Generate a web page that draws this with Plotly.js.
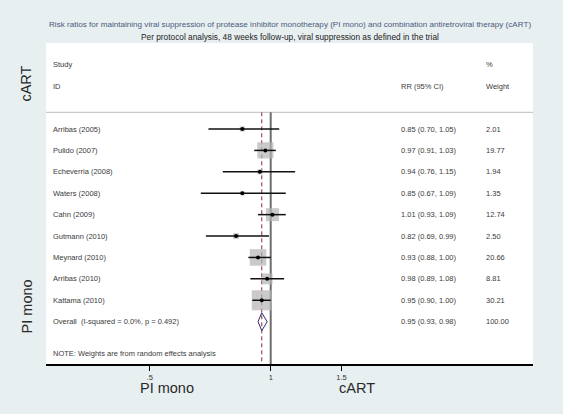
<!DOCTYPE html>
<html>
<head>
<meta charset="utf-8">
<script src="https://cdn.plot.ly/plotly-3.0.1.min.js"></script>
<style>html,body{margin:0;padding:0;background:#e8eff1;}#chart{width:563px;height:414px;}</style>
</head>
<body>
<div id="chart"></div>
<script>
const studies = ['Arribas (2005)', 'Pulido (2007)', 'Echeverria (2008)', 'Waters (2008)', 'Cahn (2009)', 'Gutmann (2010)', 'Meynard (2010)', 'Arribas (2010)', 'Kattama (2010)'];
const rr = [0.85, 0.97, 0.94, 0.85, 1.01, 0.82, 0.93, 0.98, 0.95];
const lo = [0.70, 0.91, 0.76, 0.67, 0.93, 0.69, 0.88, 0.89, 0.90];
const hi = [1.05, 1.03, 1.15, 1.09, 1.09, 0.99, 1.00, 1.08, 1.00];
const weight = [2.01, 19.77, 1.94, 1.35, 12.74, 2.50, 20.66, 8.81, 30.21];
const overallLabel = 'Overall  (I-squared = 0.0%, p = 0.492)';
const overallRR = 0.95, overallLo = 0.93, overallHi = 0.98, overallWeight = 100.00;
const tickVals = [0.5, 1, 1.5];
const tickText = ['.5', '1', '1.5'];
const titleLine1 = 'Risk ratios for maintaining viral suppression of protease inhibitor monotherapy (PI mono) and combination antiretroviral therapy (cART)';
const titleLine2 = 'Per protocol analysis, 48 weeks follow-up, viral suppression as defined in the trial';
const noteText = 'NOTE: Weights are from random effects analysis';

const FONT = '"Liberation Sans", Arial, sans-serif';
const rows = studies.map((s, i) => i + 1);
const overallRow = studies.length + 1;
const fmt = v => v.toFixed(2);

const ciX = [], ciY = [];
rows.forEach((r, i) => { ciX.push(lo[i], hi[i], null); ciY.push(r, r, null); });

const dh = 0.42;
const traces = [
  {x: [1, 1], y: [0.22, 13], mode: 'lines', line: {color: '#6e6e6e', width: 2}, hoverinfo: 'skip'},
  {x: [overallRR, overallRR], y: [0.22, 13], mode: 'lines', line: {color: '#8b2c2c', width: 1, dash: '4px,3px'}, hoverinfo: 'skip'},
  {x: rr, y: rows, mode: 'markers', marker: {symbol: 'square', color: '#b4b4b4', size: weight.map(w => 3.64 * Math.sqrt(w)), line: {width: 0}}},
  {x: ciX, y: ciY, mode: 'lines', line: {color: '#111', width: 1.5}, connectgaps: false},
  {x: rr, y: rows, mode: 'markers', marker: {symbol: 'circle', color: '#000', size: 4}},
  {x: [overallLo, overallRR, overallHi, overallRR, overallLo], y: [overallRow, overallRow - dh, overallRow, overallRow + dh, overallRow], mode: 'lines', line: {color: '#2b2b7a', width: 1}}
];

const xl = 0.011, xrr = 0.724, xw = 0.899;
const txt = (x, y, t, extra) => Object.assign({xref: 'paper', yref: 'y', x: x, y: y, text: t, showarrow: false, xanchor: 'left', yanchor: 'middle', font: {family: FONT, size: 7.5, color: '#3a3a3a'}}, extra || {});
const ann = [];
ann.push(txt(xl, -2, 'Study'), txt(xl, -1, 'ID'), txt(xrr, -1, 'RR (95% CI)'), txt(xw, -2, '%'), txt(xw, -1, 'Weight'));
rows.forEach((r, i) => {
  ann.push(txt(xl, r, studies[i]));
  ann.push(txt(xrr, r, fmt(rr[i]) + ' (' + fmt(lo[i]) + ', ' + fmt(hi[i]) + ')'));
  ann.push(txt(xw, r, fmt(weight[i])));
});
ann.push(txt(xl, overallRow, overallLabel));
ann.push(txt(xrr, overallRow, fmt(overallRR) + ' (' + fmt(overallLo) + ', ' + fmt(overallHi) + ')'));
ann.push(txt(xw, overallRow, overallWeight.toFixed(2)));
ann.push(txt(xl, 11.5, noteText));

const big = {family: FONT, size: 14.5, color: '#2a2a2a'};
ann.push({xref: 'paper', yref: 'paper', x: 0.248, y: -0.075, text: 'PI mono', showarrow: false, xanchor: 'center', yanchor: 'middle', font: big});
ann.push({xref: 'paper', yref: 'paper', x: 0.639, y: -0.075, text: 'cART', showarrow: false, xanchor: 'center', yanchor: 'middle', font: big});
ann.push({xref: 'paper', yref: 'paper', x: -0.04, y: 0.872, text: 'cART', textangle: -90, showarrow: false, xanchor: 'center', yanchor: 'middle', font: big});
ann.push({xref: 'paper', yref: 'paper', x: -0.04, y: 0.178, text: 'PI mono', textangle: -90, showarrow: false, xanchor: 'center', yanchor: 'middle', font: big});
ann.push({xref: 'paper', yref: 'paper', x: 0.5, y: 1.059, text: titleLine1, showarrow: false, xanchor: 'center', yanchor: 'middle', font: {family: FONT, size: 8.1, color: '#4a5a7c'}});
ann.push({xref: 'paper', yref: 'paper', x: 0.5, y: 1.0196, text: titleLine2, showarrow: false, xanchor: 'center', yanchor: 'middle', font: {family: FONT, size: 8.3, color: '#222'}});

const layout = {
  width: 563, height: 414,
  margin: {l: 46, r: 30, t: 43, b: 50, pad: 0},
  paper_bgcolor: '#e8eff1', plot_bgcolor: '#ffffff',
  showlegend: false,
  xaxis: {type: 'log', range: [-0.559, 0.6525], tickvals: tickVals, ticktext: tickText, ticks: 'outside', ticklen: 5, tickwidth: 1, tickcolor: '#000',
          showline: true, linecolor: '#000', linewidth: 1.5, showgrid: false, zeroline: false, tickfont: {family: FONT, size: 7.5, color: '#333'}, fixedrange: true},
  yaxis: {range: [11.976, -3.017], visible: false, showgrid: false, zeroline: false, fixedrange: true},
  shapes: [{type: 'line', xref: 'paper', yref: 'y', x0: 0, x1: 1, y0: 0.22, y1: 0.22, line: {color: '#bdbdbd', width: 1}, layer: 'below'}],
  annotations: ann
};
Plotly.newPlot('chart', traces, layout, {displayModeBar: false, staticPlot: true});
</script>
</body>
</html>
